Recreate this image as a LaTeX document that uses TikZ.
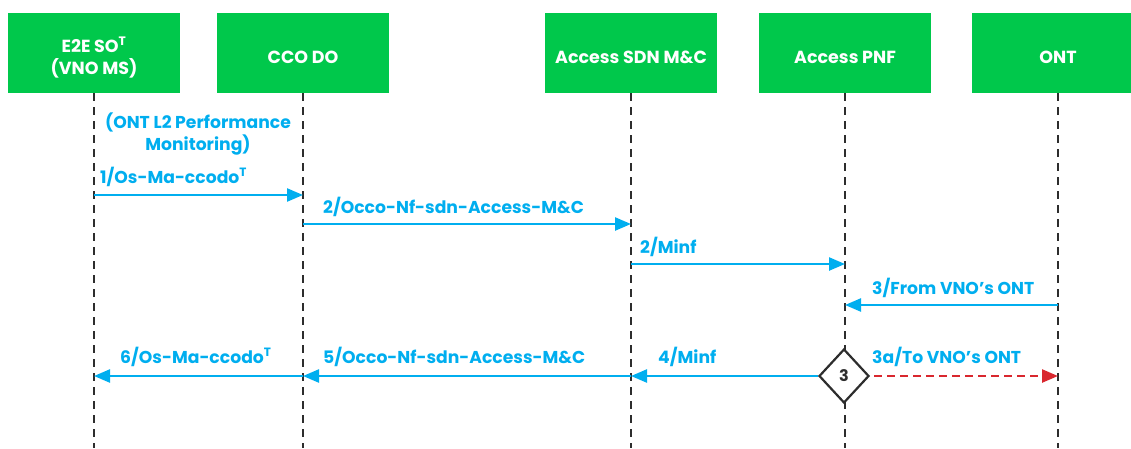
\documentclass[tikz,border=0pt]{standalone}
\usepackage{fontspec}
\setmainfont{Poppins}
\usetikzlibrary{arrows.meta,shapes.geometric}
\definecolor{cgreen}{RGB}{0,200,75}
\definecolor{cblue}{RGB}{0,174,239}
\definecolor{cred}{RGB}{217,39,46}
\definecolor{cgray}{RGB}{45,45,45}
\newcommand{\boxtext}[1]{\raisebox{-6pt}[\height][\depth]{\begin{tabular}{@{}c@{}}#1\end{tabular}}}
\tikzset{
  actor/.style={fill=cgreen, draw=none, minimum width=172pt, minimum height=80pt, inner sep=0pt,
    text=white, align=center, font=\fontsize{17.5}{22}\selectfont\bfseries},
  life/.style={draw=cgray, line width=2.2pt, dash pattern=on 8pt off 6pt},
  msg/.style={draw=cblue, line width=2.4pt, -{Triangle[length=16pt,width=13pt]}},
  altmsg/.style={draw=cred, line width=2.4pt, dash pattern=on 8pt off 5pt, -{Triangle[length=16pt,width=13pt]}},
  lbl/.style={text=cblue, inner sep=0pt, font=\fontsize{17.2}{22}\selectfont\bfseries},
  decision/.style={diamond, draw=cgray, fill=white, line width=2.2pt, minimum width=50pt, minimum height=54pt,
    inner sep=0pt, font=\fontsize{16}{18}\selectfont\bfseries, text=cgray}
}
\begin{document}
\begin{tikzpicture}[x=1pt,y=-1pt]
\clip (0,0) rectangle (1131,448);
% actors
\node[actor] (b1) at (94,53) {\boxtext{E2E SO\textsuperscript{T}\\(VNO MS)}};
\node[actor] (b2) at (303,53) {\boxtext{CCO DO}};
\node[actor] (b3) at (631,53) {\boxtext{Access SDN M\&C}};
\node[actor] (b4) at (845,53) {\boxtext{Access PNF}};
\node[actor] (b5) at (1058,53) {\boxtext{ONT}};
% lifeline ends
\coordinate (e1) at (94,448);
\coordinate (e2) at (303,448);
\coordinate (e3) at (631,448);
\coordinate (e4) at (845,448);
\coordinate (e5) at (1058,448);
\draw[life] (b1.south) -- (e1);
\draw[life] (b2.south) -- (e2);
\draw[life] (b3.south) -- (e3);
\draw[life] (b4.south) -- (e4);
\draw[life] (b5.south) -- (e5);
% note
\node[lbl, align=center, font=\fontsize{17.2}{22}\selectfont\bfseries] (note) at (198,134) {(ONT L2 Performance\\Monitoring)};
% messages
\draw[msg] (b1 |- 0,195) -- (b2 |- 0,195);
\node[lbl, anchor=base west] (l1) at (100,183) {1/Os-Ma-ccodo\textsuperscript{T}};
\draw[msg] (b2 |- 0,224) -- (b3 |- 0,224);
\node[lbl, anchor=base west] (l2) at (323,213) {2/Occo-Nf-sdn-Access-M\&C};
\draw[msg] (b3 |- 0,264) -- (b4 |- 0,264);
\node[lbl, anchor=base west] (l3) at (640,253) {2/Minf};
\draw[msg] (b5 |- 0,305) -- (b4 |- 0,305);
\node[lbl, anchor=base west] (l4) at (872,294) {3/From VNO's ONT};
% decision
\node[decision] (d3) at (844,376) {3};
\draw[msg] (d3.west) -- (b3 |- d3);
\node[lbl, anchor=base west] (l5) at (658,363) {4/Minf};
\draw[msg] (b3 |- d3) -- (b2 |- d3);
\node[lbl, anchor=base west] (l6) at (323,363) {5/Occo-Nf-sdn-Access-M\&C};
\draw[msg] (b2 |- d3) -- (b1 |- d3);
\node[lbl, anchor=base west] (l7) at (120,363) {6/Os-Ma-ccodo\textsuperscript{T}};
\draw[altmsg] ([xshift=4pt]d3.east) -- (b5 |- d3);
\node[lbl, anchor=base west] (l8) at (872,363) {3a/To VNO's ONT};
\end{tikzpicture}
\end{document}
